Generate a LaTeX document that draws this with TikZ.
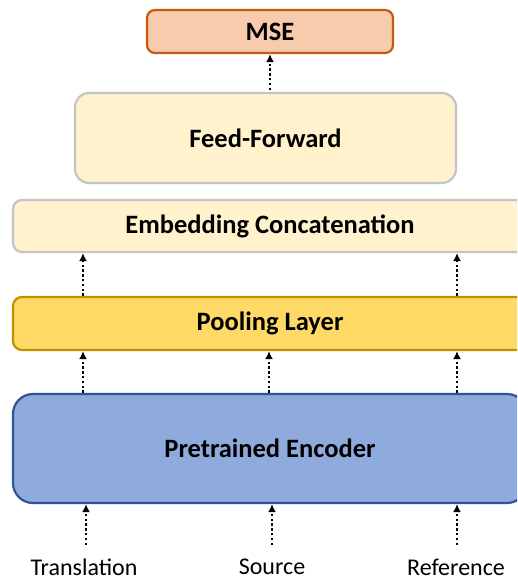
\documentclass[tikz,border=0pt]{standalone}
\usepackage{fontspec}
\setmainfont{Carlito}
\usetikzlibrary{positioning, arrows.meta}
\definecolor{mseFill}{HTML}{F8CBAD}
\definecolor{mseDraw}{HTML}{C55A11}
\definecolor{ffFill}{HTML}{FFF2CC}
\definecolor{ffDraw}{HTML}{C4C4C4}
\definecolor{poolFill}{HTML}{FFD966}
\definecolor{poolDraw}{HTML}{BF9000}
\definecolor{encFill}{HTML}{8FAADC}
\definecolor{encDraw}{HTML}{2F5597}

\begin{document}
\begin{tikzpicture}[x=1pt, y=1pt,
    layer/.style={draw, line width=2.2pt, font=\fontsize{26.5}{30}\selectfont\bfseries, inner sep=0pt},
    flow/.style={line width=2.4pt, dash pattern=on 2.4pt off 2.4pt, -{Latex[length=8pt, width=8pt]}},
    word/.style={font=\fontsize{24}{28}\selectfont, inner sep=2pt}]
  \useasboundingbox (0,0) rectangle (517,581);
  \clip (0,0) rectangle (517,581);

  \node[layer, fill=encFill, draw=encDraw, rounded corners=20pt,
        minimum width=514pt, minimum height=109pt] (enc) at (270,132.5) {Pretrained Encoder};
  \node[layer, fill=poolFill, draw=poolDraw, rounded corners=9pt,
        minimum width=514pt, minimum height=53pt] (pool) at (270,257.5) {Pooling Layer};
  \node[layer, fill=ffFill, draw=ffDraw, rounded corners=9pt,
        minimum width=514pt, minimum height=52pt] (emb) at (270,355) {Embedding Concatenation};
  \node[layer, fill=ffFill, draw=ffDraw, rounded corners=14pt,
        minimum width=381pt, minimum height=90pt] (ff) at (265.5,443) {Feed-Forward};
  \node[layer, fill=mseFill, draw=mseDraw, rounded corners=8pt,
        minimum width=246pt, minimum height=43pt] (mse) at (270,549.5) {MSE};

  \node[word] (trans) at (84,14) {Translation};
  \node[word] (src) at (272,14) {Source};
  \node[word] (ref) at (456,14) {Reference};

  % inputs into the encoder
  \foreach \w/\x in {trans/86, src/272, ref/457} {
    \coordinate (in-\w) at (\x,36);
    \draw[flow] (in-\w) -- (in-\w |- enc.south);
  }
  % encoder to pooling
  \foreach \x in {83, 269, 457} {
    \coordinate (ep-\x) at (\x,0);
    \draw[flow] (ep-\x |- enc.north) -- (ep-\x |- pool.south);
  }
  % pooling to concatenation
  \foreach \x in {83, 457} {
    \draw[flow] (ep-\x |- pool.north) -- (ep-\x |- emb.south);
  }
  \coordinate (top) at (270,491);
  \draw[flow] (top) -- (top |- mse.south);
\end{tikzpicture}
\end{document}
